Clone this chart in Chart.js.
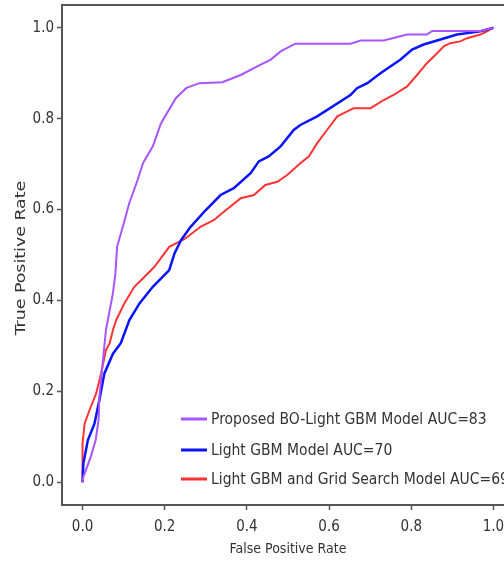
<!DOCTYPE html>
<html>
<head>
<meta charset="utf-8">
<script src="https://cdn.jsdelivr.net/npm/chart.js@4.4.1/dist/chart.umd.min.js"></script>
<style>
    html, body { margin: 0; padding: 0; background: #fff; overflow: hidden; width: 504px; height: 566px; }
    #wrap { width: 514px; height: 566px; }
</style>
</head>
<body>
<div id="wrap"><canvas id="roc" width="514" height="566"></canvas></div>
<script>
// ROC points (false positive rate / true positive rate)
const boFpr = [0, 0.002, 0.020, 0.032, 0.039, 0.041, 0.049, 0.057, 0.074, 0.080, 0.084, 0.098, 0.114, 0.134, 0.147, 0.171, 0.191, 0.227, 0.252, 0.284, 0.340, 0.385, 0.425, 0.458, 0.482, 0.518, 0.652, 0.677, 0.733, 0.790, 0.838, 0.851, 0.968, 1.0];
const boTpr = [0, 0.012, 0.056, 0.093, 0.137, 0.188, 0.262, 0.335, 0.416, 0.460, 0.518, 0.562, 0.615, 0.665, 0.702, 0.739, 0.790, 0.845, 0.867, 0.878, 0.880, 0.896, 0.915, 0.930, 0.948, 0.965, 0.965, 0.972, 0.972, 0.985, 0.985, 0.993, 0.993, 1.0];

const lgbFpr = [0, 0.002, 0.013, 0.029, 0.041, 0.053, 0.074, 0.093, 0.114, 0.139, 0.171, 0.211, 0.224, 0.240, 0.263, 0.300, 0.336, 0.368, 0.409, 0.429, 0.453, 0.482, 0.514, 0.530, 0.571, 0.652, 0.668, 0.693, 0.725, 0.774, 0.802, 0.830, 0.871, 0.911, 0.968, 1.0];
const lgbTpr = [0, 0.041, 0.093, 0.129, 0.181, 0.239, 0.283, 0.306, 0.357, 0.394, 0.430, 0.467, 0.504, 0.533, 0.562, 0.599, 0.632, 0.647, 0.680, 0.706, 0.717, 0.739, 0.775, 0.786, 0.805, 0.852, 0.867, 0.878, 0.900, 0.930, 0.952, 0.963, 0.974, 0.985, 0.992, 1.0];

const gridFpr = [0, 0, 0.005, 0.017, 0.033, 0.045, 0.057, 0.066, 0.074, 0.082, 0.102, 0.126, 0.151, 0.175, 0.211, 0.244, 0.251, 0.287, 0.320, 0.344, 0.385, 0.417, 0.445, 0.474, 0.498, 0.530, 0.551, 0.571, 0.595, 0.620, 0.660, 0.701, 0.733, 0.757, 0.790, 0.814, 0.838, 0.863, 0.879, 0.895, 0.919, 0.936, 0.968, 0.984, 1.0];
const gridTpr = [0, 0.085, 0.129, 0.159, 0.195, 0.239, 0.291, 0.306, 0.335, 0.357, 0.394, 0.430, 0.452, 0.474, 0.518, 0.533, 0.537, 0.562, 0.577, 0.595, 0.625, 0.632, 0.654, 0.661, 0.676, 0.702, 0.717, 0.746, 0.775, 0.805, 0.823, 0.823, 0.841, 0.852, 0.871, 0.896, 0.922, 0.944, 0.959, 0.966, 0.970, 0.977, 0.985, 0.992, 1.0];

const seriesLabels = ['Proposed BO-Light GBM Model AUC=83', 'Light GBM Model AUC=70', 'Light GBM and Grid Search Model AUC=69'];
const tickValues = [0, 0.2, 0.4, 0.6, 0.8, 1.0];
const xTitle = 'False Positive Rate';
const yTitle = 'True Positive Rate';

const fontFamily = '"DejaVu Sans Condensed", "DejaVu Sans", sans-serif';
const axisColor = '#555';
const textColor = '#333';

function toPoints(xs, ys) {
    return xs.map((x, i) => ({ x: x, y: ys[i] }));
}

function makeDataset(label, xs, ys, color, width) {
    return {
        label: label,
        data: toPoints(xs, ys),
        borderColor: color,
        backgroundColor: color,
        borderWidth: width,
        pointRadius: 0,
        tension: 0,
        fill: false
    };
}

// legend sits inside the plot, no frame
const insideLegend = {
    id: 'insideLegend',
    afterDatasetsDraw(chart) {
        const ctx = chart.ctx;
        const area = chart.chartArea;
        const x0 = area.left + 119;
        const rows = [area.top + 414, area.top + 445, area.top + 474];
        ctx.save();
        ctx.font = '15.5px ' + fontFamily;
        ctx.textBaseline = 'middle';
        chart.data.datasets.forEach((ds, i) => {
            ctx.strokeStyle = ds.borderColor;
            ctx.lineWidth = 3;
            ctx.beginPath();
            ctx.moveTo(x0, rows[i]);
            ctx.lineTo(x0 + 26, rows[i]);
            ctx.stroke();
            ctx.fillStyle = textColor;
            ctx.fillText(ds.label, x0 + 30, rows[i] + 1);
        });
        ctx.restore();
    }
};

// frame + the y title (drawn here so it can be stretched along its length like the original)
const frame = {
    id: 'frame',
    afterDraw(chart) {
        const ctx = chart.ctx;
        const a = chart.chartArea;
        ctx.save();
        ctx.strokeStyle = axisColor;
        ctx.lineWidth = 2;
        ctx.strokeRect(a.left, a.top, a.right - a.left, a.bottom - a.top);

        ctx.translate(21, (a.top + a.bottom) / 2 + 3);
        ctx.rotate(-Math.PI / 2);
        ctx.scale(1.38, 1);
        ctx.font = '14px ' + fontFamily;
        ctx.fillStyle = textColor;
        ctx.textAlign = 'center';
        ctx.textBaseline = 'middle';
        ctx.fillText(yTitle, 0, 0);
        ctx.restore();
    }
};

function axisOptions(title, isY) {
    return {
        type: 'linear',
        min: -0.05,
        max: 1.05,
        afterBuildTicks: (scale) => {
            scale.ticks = tickValues.map(v => ({ value: v }));
        },
        afterFit: (scale) => {
            if (isY) {
                scale.width = 52;
                scale.paddingTop = 0;
                scale.paddingBottom = 0;
            } else {
                scale.height = 61;
                scale.paddingLeft = 0;
                scale.paddingRight = 0;
            }
        },
        border: { display: false },
        grid: {
            display: true,
            drawOnChartArea: false,
            drawTicks: true,
            tickLength: 5,
            tickColor: axisColor,
            tickWidth: 1.5
        },
        ticks: {
            color: textColor,
            font: { family: fontFamily, size: 15 },
            padding: isY ? 3 : 8,
            maxRotation: 0,
            callback: (v) => v.toFixed(1)
        },
        title: {
            display: !isY,
            text: title,
            color: textColor,
            font: { family: fontFamily, size: 14 },
            padding: { top: 2, bottom: 8 }
        }
    };
}

const ctx = document.getElementById('roc').getContext('2d');
new Chart(ctx, {
    type: 'line',
    data: {
        datasets: [
            makeDataset(seriesLabels[0], boFpr, boTpr, '#a855ff', 2),
            makeDataset(seriesLabels[1], lgbFpr, lgbTpr, '#0a14ff', 2.5),
            makeDataset(seriesLabels[2], gridFpr, gridTpr, '#ff3333', 2)
        ]
    },
    options: {
        responsive: false,
        animation: false,
        layout: { padding: { left: 10, top: 5, right: 0, bottom: 0 } },
        plugins: {
            legend: { display: false },
            tooltip: { enabled: false }
        },
        scales: {
            x: axisOptions(xTitle, false),
            y: axisOptions(yTitle, true)
        }
    },
    plugins: [insideLegend, frame]
});
</script>
</body>
</html>
